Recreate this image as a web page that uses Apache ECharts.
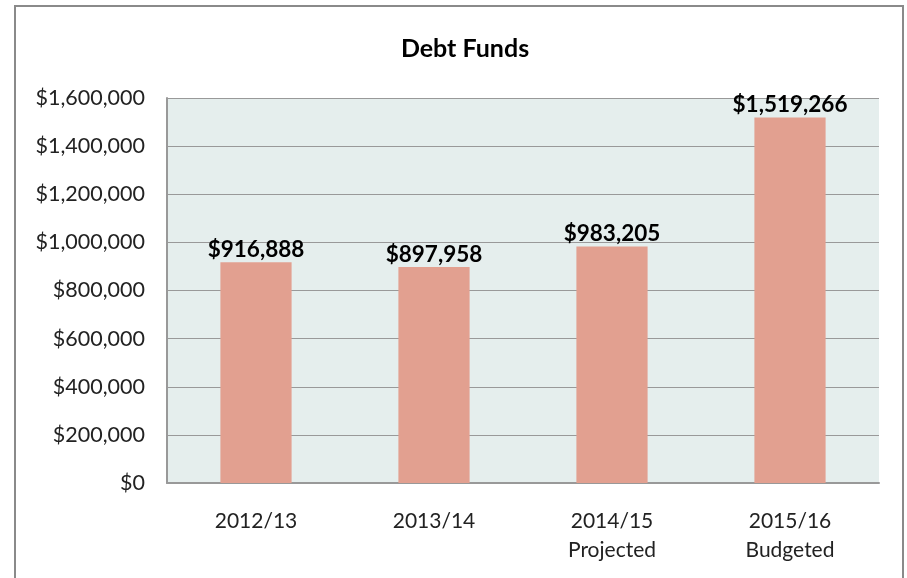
<!DOCTYPE html>
<html>
<head>
<meta charset="utf-8">
<script src="https://cdn.jsdelivr.net/npm/echarts@6/dist/echarts.min.js"></script>
<style>
  html, body { margin: 0; padding: 0; background: #fff; }
  #frame { position: absolute; left: 14px; top: 5px; width: 890px; height: 580px; border: 2px solid #8a8a8a; box-sizing: border-box; }
  #main { position: absolute; left: 0; top: 0; width: 907px; height: 578px; }
</style>
</head>
<body>
<div id="frame"></div>
<div id="main"></div>
<script>
var categories = ['2012/13', '2013/14', '2014/15\nProjected', '2015/16\nBudgeted'];
var debtValues = [916888, 897958, 983205, 1519266];

var chart = echarts.init(document.getElementById('main'));

function money(v) {
    return '$' + v.toString().replace(/\B(?=(\d{3})+(?!\d))/g, ',');
}

chart.setOption({
    animation: false,
    title: {
        text: 'Debt Funds',
        left: 460,
        textAlign: 'center',
        top: 31,
        textStyle: {
            fontFamily: 'Lato',
            fontSize: 25,
            fontWeight: 'bold',
            color: '#000'
        }
    },
    grid: {
        left: 167,
        right: 28,
        top: 98,
        bottom: 95,
        show: true,
        backgroundColor: '#e5eeed',
        borderWidth: 0
    },
    xAxis: {
        type: 'category',
        data: categories,
        axisLine: { lineStyle: { color: '#999', width: 2 } },
        axisTick: { show: false },
        axisLabel: {
            margin: 24,
            fontFamily: 'Lato',
            fontSize: 21,
            lineHeight: 29,
            color: '#222'
        }
    },
    yAxis: {
        type: 'value',
        min: 0,
        max: 1600000,
        interval: 200000,
        axisLine: { show: true, lineStyle: { color: '#999', width: 2 } },
        axisTick: { show: false },
        splitLine: { lineStyle: { color: '#999', width: 1 } },
        axisLabel: {
            margin: 22,
            fontFamily: 'Lato',
            fontSize: 21.5,
            color: '#222',
            formatter: money
        }
    },
    series: [{
        type: 'bar',
        data: debtValues,
        barWidth: '40%',
        itemStyle: { color: '#e2a090' },
        label: {
            show: true,
            position: 'top',
            distance: 1,
            fontFamily: 'Lato',
            fontSize: 22.5,
            fontWeight: 'bold',
            color: '#000',
            formatter: function (p) { return money(p.value); }
        }
    }]
});
</script>
</body>
</html>
